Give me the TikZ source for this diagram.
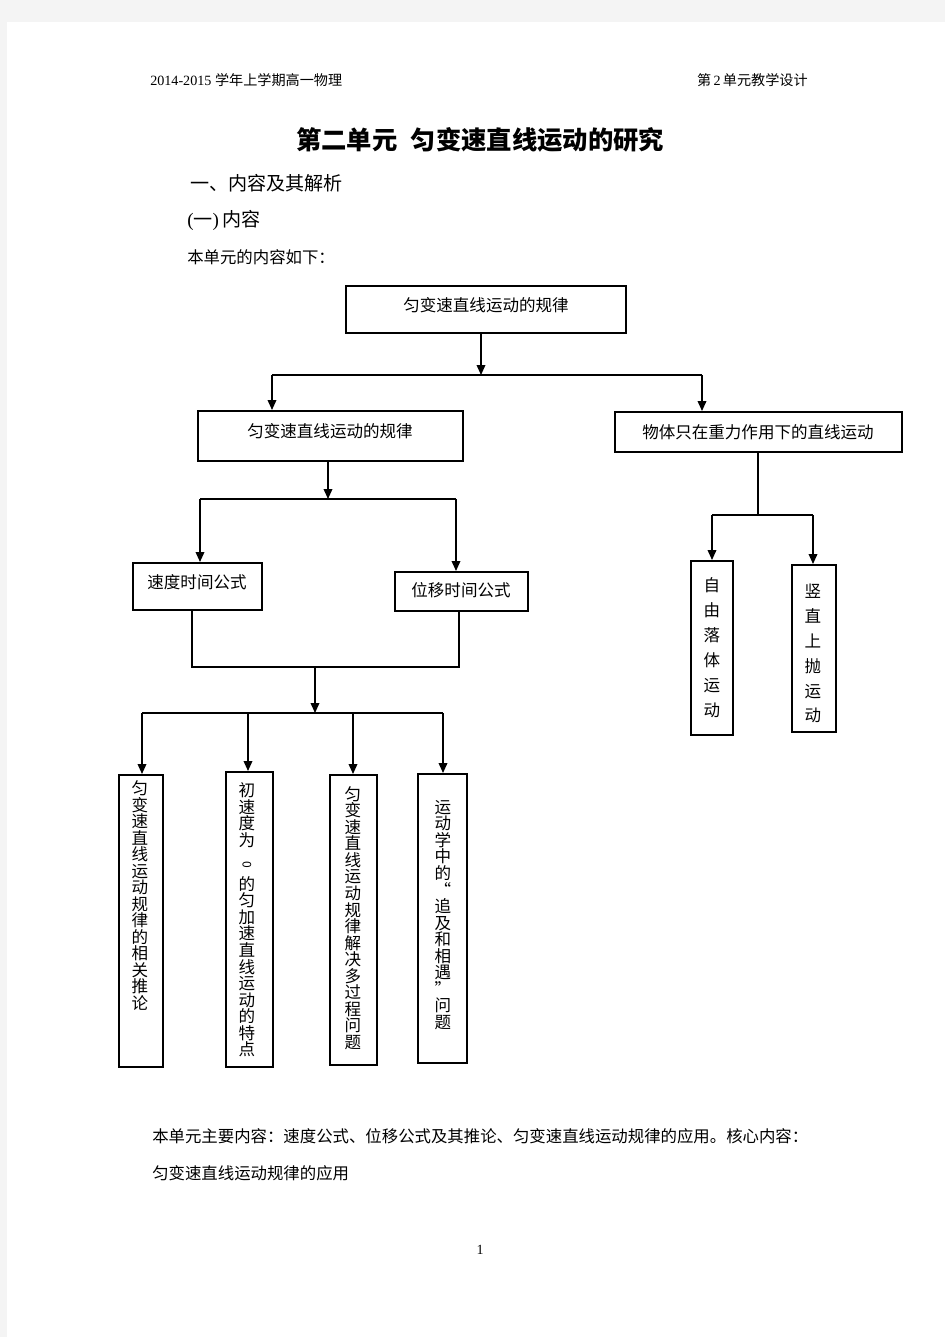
\documentclass[tikz,border=0pt]{standalone}
\usepackage{fontspec}
\usepackage{graphicx}
\setmainfont{Liberation Serif}
\newfontfamily\cjk{Noto Sans CJK SC}
\usetikzlibrary{arrows.meta,fit}
\definecolor{pagegrey}{RGB}{244,244,244}
\begin{document}
\begin{tikzpicture}[x=0.75pt,y=-0.75pt,
  box/.style={draw=black,line width=1.5pt,inner sep=0pt},
  conn/.style={line width=1.1pt},
  arr/.style={conn,-{Triangle[length=7.5pt,width=6.5pt]}},
  txt/.style={font=\cjk\fontsize{12.4}{14}\selectfont,inner sep=0pt},
  vtxt/.style={font=\cjk\fontsize{12.4}{12.4}\selectfont,align=center,inner sep=0pt},
  vtxtwide/.style={font=\cjk\fontsize{12.4}{18.7}\selectfont,align=center,inner sep=0pt},
  hdr/.style={font=\fontsize{10.6}{12}\selectfont,inner sep=0pt},
  body/.style={font=\cjk\fontsize{12.3}{14}\selectfont,inner sep=0pt,anchor=west}
]
\useasboundingbox (0,0) rectangle (945,1337);
\fill[pagegrey] (0,0) rectangle (945,1337);
\fill[white] (7,22) rectangle (945,1337);

% header
\node[hdr,anchor=west] (hl) at (150,80) {2014-2015 {\cjk 学年上学期高一物理}};
\node[hdr,anchor=east] (hr) at (808,80) {{\cjk 第}\,2\,{\cjk 单元教学设计}};

% title and headings
\node[font=\cjk\bfseries\fontsize{19}{22}\selectfont,inner sep=0pt,anchor=west] (title) at (296,140) {第二单元\hspace{10pt}匀变速直线运动的研究};
\node[font=\cjk\fontsize{14.3}{16}\selectfont,inner sep=0pt,anchor=west] (h1) at (190,183) {一、内容及其解析};
\node[font=\fontsize{14.3}{16}\selectfont,inner sep=0pt,anchor=west] (h2) at (187,220) {({\cjk 一})\,{\cjk 内容}};
\node[body] (intro) at (187,257) {本单元的内容如下：};

% boxes
\node[box,fit={(346,286) (626,333)}] (A) {};
\node[box,fit={(198,411) (463,461)}] (B) {};
\node[box,fit={(615,412) (902,452)}] (C) {};
\node[box,fit={(133,563) (262,610)}] (D) {};
\node[box,fit={(395,572) (528,611)}] (E) {};
\node[box,fit={(119,775) (163,1067)}] (F1) {};
\node[box,fit={(226,772) (273,1067)}] (F2) {};
\node[box,fit={(330,775) (377,1065)}] (F3) {};
\node[box,fit={(418,774) (467,1063)}] (F4) {};
\node[box,fit={(691,561) (733,735)}] (G) {};
\node[box,fit={(792,565) (836,732)}] (H) {};

% box texts
\node[txt] (tA) at (486,305) {匀变速直线运动的规律};
\node[txt] (tB) at (330,431) {匀变速直线运动的规律};
\node[txt] (tC) at (758,432) {物体只在重力作用下的直线运动};
\node[txt] (tD) at (197,582) {速度时间公式};
\node[txt] (tE) at (461,590) {位移时间公式};
\node[vtxt] (tF1) at (140,895.5) {匀\\变\\速\\直\\线\\运\\动\\规\\律\\的\\相\\关\\推\\论};
\node[vtxt] (tF2) at (247,920) {初\\速\\度\\为\\[-1pt]\rotatebox{-90}{\fontsize{9}{9}\selectfont 0}\\[5pt]的\\匀\\加\\速\\直\\线\\运\\动\\的\\特\\点};
\node[vtxt] (tF3) at (353,918) {匀\\变\\速\\直\\线\\运\\动\\规\\律\\解\\决\\多\\过\\程\\问\\题};
\node[vtxt] (tF4) at (443,915) {运\\动\\学\\中\\的\\“\\追\\及\\和\\相\\遇\\”\\问\\题};
\node[vtxtwide] (tG) at (712,647.5) {自\\由\\落\\体\\运\\动};
\node[vtxtwide] (tH) at (813,653.5) {竖\\直\\上\\抛\\运\\动};

% connectors, top level
\coordinate (j1) at (481,375);
\coordinate (j1L) at (272,375);
\coordinate (j1R) at (702,375);
\draw[arr] (A.south -| j1) -- (j1);
\draw[conn] (j1L) -- (j1R);
\draw[arr] (j1L) -- (j1L |- B.north);
\draw[arr] (j1R) -- (j1R |- C.north);

% left branch
\coordinate (j2) at (328,499);
\coordinate (j2L) at (200,499);
\coordinate (j2R) at (456,499);
\draw[arr] (B.south -| j2) -- (j2);
\draw[conn] (j2L) -- (j2R);
\draw[arr] (j2L) -- (j2L |- D.north);
\draw[arr] (j2R) -- (j2R |- E.north);

\coordinate (j3L) at (192,667);
\coordinate (j3R) at (459,667);
\coordinate (j3) at (315,667);
\draw[conn] (D.south -| j3L) -- (j3L) -- (j3R) -- (E.south -| j3R);

\coordinate (j4) at (315,713);
\coordinate (j4a) at (142,713);
\coordinate (j4b) at (248,713);
\coordinate (j4c) at (353,713);
\coordinate (j4d) at (443,713);
\draw[arr] (j3) -- (j4);
\draw[conn] (j4a) -- (j4d);
\draw[arr] (j4a) -- (j4a |- F1.north);
\draw[arr] (j4b) -- (j4b |- F2.north);
\draw[arr] (j4c) -- (j4c |- F3.north);
\draw[arr] (j4d) -- (j4d |- F4.north);

% right branch
\coordinate (k1) at (758,515);
\coordinate (k1L) at (712,515);
\coordinate (k1R) at (813,515);
\draw[conn] (C.south -| k1) -- (k1);
\draw[conn] (k1L) -- (k1R);
\draw[arr] (k1L) -- (k1L |- G.north);
\draw[arr] (k1R) -- (k1R |- H.north);

% bottom text
\node[body] (s1) at (152,1136) {本单元主要内容：速度公式、位移公式及其推论、匀变速直线运动规律的应用。核心内容：};
\node[body] (s2) at (152,1173) {匀变速直线运动规律的应用};
\node[font=\fontsize{10.5}{12}\selectfont,inner sep=0pt] (pg) at (480,1250) {1};
\end{tikzpicture}
\end{document}
